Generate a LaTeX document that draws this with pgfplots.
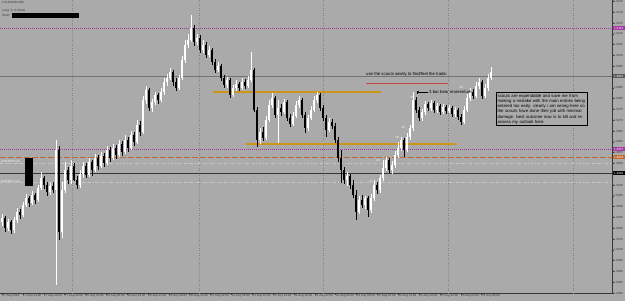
\documentclass[border=0pt]{standalone}
\usepackage{pgfplots}
\pgfplotsset{compat=1.18}
\usepackage{pgfplotstable}
\usetikzlibrary{arrows.meta}
\usepackage{fontspec}
\setmainfont{Liberation Sans}
\newfontfamily\sym{DejaVu Sans}
\definecolor{bg}{RGB}{170,170,170}
\definecolor{grd}{RGB}{130,130,130}
\definecolor{purp}{RGB}{165,55,165}
\definecolor{gold}{RGB}{205,150,25}
\definecolor{rust}{RGB}{195,105,50}
\definecolor{lred}{RGB}{200,70,70}
\definecolor{lite}{RGB}{200,200,200}
\definecolor{dk}{RGB}{55,55,55}

% pixel rows (top = 0); x = pixel column
\pgfplotstableread{
x o h l c
2 222 214 226 218
8 228 219 231 222
14 230 217 233 220
17 220 208 223 212
23 215 202 217 205
26 205 194 207 198
32 203 191 205 195
38 200 185 202 188
41 188 172 190 178
50 192 183 195 186
56 190 140 285 150
62 232 182 238 190
65 190 162 193 170
71 180 160 184 166
80 185 170 188 174
83 174 162 178 166
89 175 158 177 162
95 170 154 172 158
101 166 152 168 156
107 163 146 165 150
113 158 144 160 148
119 155 140 157 144
125 152 135 154 140
131 148 131 150 135
137 142 120 144 125
143 132 96 134 100
146 100 86 104 90
152 108 99 112 102
155 102 92 105 95
161 100 88 102 92
164 92 78 95 82
167 82 74 86 78
170 78 68 80 72
179 88 75 90 78
182 78 56 80 60
185 60 40 63 45
188 45 34 48 40
191 40 15 42 28
197 42 34 45 38
203 50 40 53 45
209 55 46 57 50
218 70 62 72 66
227 85 77 88 80
233 95 85 97 88
236 88 80 91 84
242 88 78 90 82
248 86 76 88 80
251 80 52 82 70
260 140 128 144 132
266 138 116 140 120
269 120 100 122 105
272 105 93 108 98
278 115 100 143 108
284 112 99 114 102
293 124 112 126 116
296 116 101 118 105
299 105 96 108 100
308 128 115 131 118
311 118 106 120 110
314 110 96 112 100
317 100 92 103 95
329 130 118 132 122
347 180 172 186 176
359 212 196 214 200
365 205 196 209 198
371 210 194 213 198
374 198 180 201 185
380 190 175 193 178
383 178 160 181 168
386 168 157 171 160
392 170 161 174 165
395 165 151 168 155
398 155 142 158 148
401 148 137 151 140
407 150 133 152 137
410 137 125 140 128
413 128 92 131 100
422 118 109 121 112
425 112 101 115 104
431 108 100 111 103
437 110 103 113 106
443 112 104 114 107
449 111 105 113 108
455 114 107 117 110
464 122 106 124 110
467 110 94 112 98
470 98 88 101 92
476 96 82 98 86
479 86 78 89 82
485 96 84 98 88
488 88 74 91 78
491 78 67 80 72
}\bull

\pgfplotstableread{
x o h l c
5 218 216 232 228
11 222 220 234 230
20 212 209 219 215
29 198 196 207 203
35 195 193 204 200
44 178 176 189 185
47 185 182 196 192
53 186 182 193 190
59 150 146 240 232
68 170 167 184 180
74 166 163 181 180
77 180 176 189 185
86 166 163 178 175
92 162 160 176 170
98 158 155 170 166
104 156 153 167 163
110 150 147 162 158
116 148 145 159 155
122 144 141 156 152
128 140 137 152 148
134 135 132 146 142
140 125 121 136 132
149 90 88 111 108
158 95 93 104 100
173 72 70 86 82
176 82 78 91 88
194 28 25 46 42
200 38 35 53 50
206 45 42 58 55
212 50 48 65 62
215 62 59 73 70
221 66 64 81 78
224 78 75 88 85
230 80 78 98 95
239 84 82 91 88
245 82 79 89 86
254 70 68 112 110
257 110 107 147 140
263 132 127 141 138
275 98 96 118 115
281 108 104 116 112
287 102 100 121 118
290 118 114 127 124
302 100 98 118 115
305 115 112 133 128
320 95 93 111 108
323 108 105 121 118
326 118 115 137 130
332 122 119 129 126
335 126 123 143 140
338 140 137 162 158
341 158 150 183 170
344 170 167 184 180
350 176 174 189 185
353 185 180 198 195
356 195 190 220 212
362 200 195 208 205
368 198 196 217 210
377 185 182 194 190
389 160 158 173 170
404 140 138 157 150
416 100 97 113 110
419 110 107 121 118
428 104 102 111 108
434 103 101 113 110
440 106 104 115 112
446 107 105 114 111
452 108 106 117 114
458 110 108 120 117
461 117 114 125 122
473 92 89 99 96
482 82 80 99 96
}\bear

\newcommand{\tk}{\fontsize{3}{3.5}\selectfont}
\newcommand{\nt}{\fontsize{4.3}{5.2}\selectfont}

\begin{document}
\begin{tikzpicture}[x=1pt,y=1pt]
\path[use as bounding box] (0,0) rectangle (625,301);
\fill[bg] (0,0) rectangle (625,301);
\begin{axis}[
  at={(0pt,8pt)}, anchor=south west,
  scale only axis, width=612pt, height=293pt,
  xmin=0, xmax=612, ymin=0, ymax=293,
  axis x line=bottom, axis y line=right,
  axis line style={-, draw=dk, line width=0.5pt},
  clip=false,
  tick align=outside, major tick length=1.5pt,
  tick style={draw=dk, line width=0.4pt},
  /pgf/number format/assume math mode=true,
  xtick={2,22.85,43.7,64.55,85.4,106.25,127.1,147.95,168.8,189.65,210.5,231.35,252.2,273.05,293.9,314.75,335.6,356.45,377.3,398.15,419,439.85,460.7,481.55},
  xticklabels={17 Aug 2018,17 Aug 14:00,17 Aug 18:00,17 Aug 22:00,20 Aug 02:00,20 Aug 06:00,20 Aug 10:00,20 Aug 14:00,20 Aug 18:00,20 Aug 22:00,21 Aug 02:00,21 Aug 06:00,21 Aug 10:00,21 Aug 14:00,21 Aug 18:00,21 Aug 22:00,22 Aug 02:00,22 Aug 06:00,22 Aug 10:00,22 Aug 14:00,22 Aug 18:00,22 Aug 22:00,23 Aug 02:00,23 Aug 06:00},
  xticklabel style={font=\tk, text=dk, anchor=north west, xshift=-0.3pt, yshift=1pt, inner sep=0.5pt},
  ytick={0,10.8,21.6,32.4,43.2,54,64.8,75.6,86.4,97.2,108,118.8,129.6,140.4,151.2,162,172.8,183.6,194.4,205.2,216,226.8,237.6,248.4,259.2,270,280.8,291.6},
  yticklabels={1.2990,1.2995,1.3000,1.3005,1.3010,1.3015,1.3020,1.3025,1.3030,1.3035,1.3040,1.3045,1.3050,1.3055,1.3060,1.3065,1.3070,1.3075,1.3080,1.3085,1.3090,1.3095,1.3100,1.3105,1.3110,1.3115,1.3120,1.3125},
  yticklabel style={font=\tk, text=dk, anchor=west, xshift=-0.5pt, inner sep=0.5pt},
]
% grid separators
\foreach \g in {72,199,323,448,573}{
  \edef\tmp{\noexpand\draw[grd, dotted, line width=0.5pt] (axis cs:\g,0) -- (axis cs:\g,293);}\tmp}
% horizontal levels
\draw[purp, line width=0.45pt, dash pattern=on 0.8pt off 1.2pt] (axis cs:0,265) -- (axis cs:612,265);
\draw[black!55, line width=0.5pt] (axis cs:0,217) -- (axis cs:612,217);
\draw[purp, line width=0.45pt, dash pattern=on 0.8pt off 1.2pt] (axis cs:0,144) -- (axis cs:612,144);
\draw[rust, line width=1pt, dash pattern=on 6pt off 2pt] (axis cs:0,136) -- (axis cs:612,136);
\draw[lite, dash pattern=on 3pt off 1.5pt on 0.8pt off 1.5pt, line width=0.45pt] (axis cs:0,130) -- (axis cs:612,130);
\draw[dk, line width=0.6pt] (axis cs:0,120) -- (axis cs:612,120);
\draw[lite, dash pattern=on 3pt off 1.5pt on 0.8pt off 1.5pt, line width=0.45pt] (axis cs:0,111) -- (axis cs:612,111);
% trader's lines
\draw[gold, line width=1.2pt] (axis cs:213,201) -- (axis cs:381,201);
\draw[gold, line width=1.2pt] (axis cs:246,149) -- (axis cs:457,149);
\draw[lred, line width=0.6pt] (axis cs:366,210) -- (axis cs:448,210);

% candles: wicks
\addplot[draw=none, forget plot, error bars/.cd, y dir=both, y explicit, error mark=none,
  error bar style={draw=white, solid, line width=0.6pt}]
  table[x=x, y expr={293-(\thisrow{h}+\thisrow{l})/2}, y error expr={(\thisrow{l}-\thisrow{h})/2}] {\bull};
\addplot[draw=none, forget plot, error bars/.cd, y dir=both, y explicit, error mark=none,
  error bar style={draw=black, solid, line width=0.6pt}]
  table[x=x, y expr={293-(\thisrow{h}+\thisrow{l})/2}, y error expr={(\thisrow{l}-\thisrow{h})/2}] {\bear};
% candles: bodies
\addplot[draw=none, forget plot, error bars/.cd, y dir=both, y explicit, error mark=none,
  error bar style={draw=white, solid, line width=1.8pt, line cap=butt}]
  table[x=x, y expr={293-(\thisrow{o}+\thisrow{c})/2}, y error expr={max(abs(\thisrow{o}-\thisrow{c})/2,0.4)}] {\bull};
\addplot[draw=none, forget plot, error bars/.cd, y dir=both, y explicit, error mark=none,
  error bar style={draw=black, solid, line width=1.8pt, line cap=butt}]
  table[x=x, y expr={293-(\thisrow{o}+\thisrow{c})/2}, y error expr={max(abs(\thisrow{o}-\thisrow{c})/2,0.4)}] {\bear};

% annotations
\node[font=\nt, anchor=west, inner sep=0pt] at (axis cs:366,219) {use the scouts wisely to find/feel the trade.};
\draw[black, line width=0.4pt, -{Stealth[length=2pt,width=2pt]}] (axis cs:428,201) -- (axis cs:417,201);
\draw[black, line width=0.4pt] (axis cs:417,199.5) -- (axis cs:417,202.5);
\node[font=\nt, anchor=west, inner sep=0pt] at (axis cs:429,201) {3 bar bear momentum};
\node[draw=black, line width=1pt, fill=bg, anchor=north west, align=left, font=\nt, inner sep=1.6pt, text width=88pt]
  at (axis cs:495.5,201) {scouts are expendable and save me from\\making a mistake with the main entries being\\entered too early. clearly i am wrong here so\\the scouts have done their job with minimal\\damage. best outcome now is to kill and re-\\assess my outlook here.};
\foreach \px/\py/\t in {371/181/17,378/160/26,397/137/29,403/127/15,412/97/25,461/87/10}{
  \edef\tmp{\noexpand\node[font=\noexpand\tk, text=white, inner sep=0pt] at (axis cs:\px,{293-\py}) {\t};}\tmp}
% order labels and masks
\node[font=\tk, text=white!85!bg, anchor=west, inner sep=0pt] at (axis cs:1,132) {\#0258500 sell};
\node[font=\tk, text=white!85!bg, anchor=west, inner sep=0pt] at (axis cs:1,112) {\#0258507 sell};
\fill[black] (axis cs:25,107) rectangle (axis cs:33,135);
% header
\node[font=\tk, text=dk, anchor=west, inner sep=0pt] at (axis cs:2,290) {{\sym ▾} EURUSD,M30};
\node[font=\tk, text=dk, anchor=west, inner sep=0pt] at (axis cs:2,282) {Long: 0, 0, 00.00};
\node[font=\tk, text=dk, anchor=west, inner sep=0pt] at (axis cs:2,277.5) {Short:};
\fill[black] (axis cs:12,275) rectangle (axis cs:79,280);
% price tags on the scale
\node[fill=purp, text=white, font=\tk, anchor=west, inner sep=0.6pt, minimum width=12pt] at (axis cs:612.5,265) {1.3113};
\node[fill=black!65, text=white, font=\tk, anchor=west, inner sep=0.6pt, minimum width=12pt] at (axis cs:612.5,217) {1.3091};
\node[fill=purp, text=white, font=\tk, anchor=west, inner sep=0.6pt, minimum width=12pt] at (axis cs:612.5,144) {1.3057};
\node[fill=rust, text=white, font=\tk, anchor=west, inner sep=0.6pt, minimum width=12pt] at (axis cs:612.5,136) {1.3053};
\node[fill=black, text=white, font=\tk, anchor=west, inner sep=0.6pt, minimum width=12pt] at (axis cs:612.5,120) {1.3046};
\end{axis}
\end{tikzpicture}
\end{document}
